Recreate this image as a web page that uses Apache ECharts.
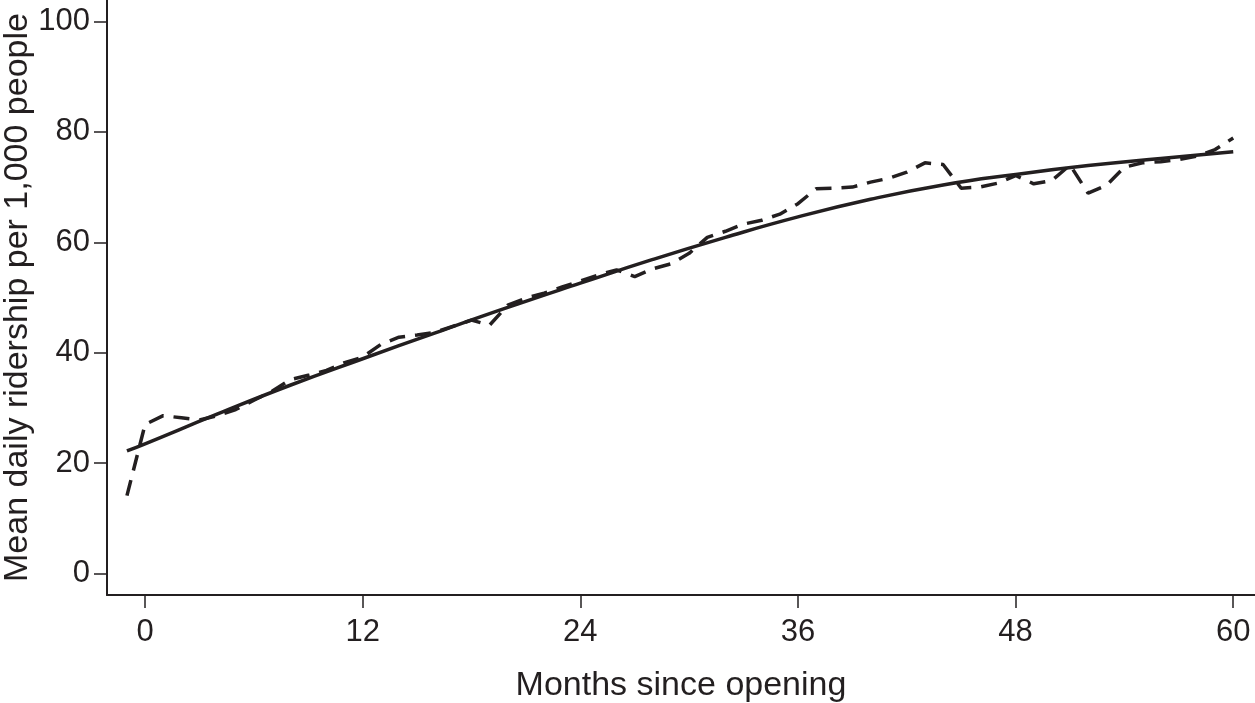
<!DOCTYPE html>
<html>
<head>
<meta charset="utf-8">
<script src="https://cdn.jsdelivr.net/npm/echarts@6/dist/echarts.min.js"></script>
<style>
  html, body { margin: 0; padding: 0; background: #fff; }
  #chart { width: 1255px; height: 703px; }
</style>
</head>
<body>
<div id="chart"></div>
<script>
// monthly observed ridership (dashed)
var months = [-1, 0, 1, 2, 3, 4, 5, 6, 7, 8, 9, 10, 11, 12, 13, 14, 15, 16, 17, 18, 19, 20,
  21, 22, 23, 24, 25, 26, 27, 28, 29, 30, 31, 32, 33, 34, 35, 36, 37, 38, 39, 40,
  41, 42, 43, 44, 45, 46, 47, 48, 49, 50, 51, 52, 53, 54, 55, 56, 57, 58, 59, 60];
var observed = [14.1, 27.0, 28.6, 28.2, 27.8, 28.6, 29.7, 31.4, 33.0, 35.1, 35.9, 36.8,
  38.2, 39.2, 41.5, 42.8, 43.2, 43.7, 44.8, 45.9, 45.0, 48.6, 49.9, 50.8, 51.9, 53.0,
  54.1, 55.0, 53.8, 55.2, 56.1, 58.0, 60.9, 62.0, 63.3, 64.0, 65.1, 67.0, 69.7, 69.8,
  70.0, 70.9, 71.6, 72.7, 74.4, 74.1, 69.8, 70.0, 70.7, 72.1, 70.6, 71.2, 74.0, 68.9,
  70.3, 73.6, 74.4, 74.6, 75.0, 75.6, 76.8, 78.9];

// fitted trend (solid)
var fitMonths = [-1, 0, 4, 8, 12, 16, 20, 24, 28, 32, 36, 40, 44, 48, 52, 56, 60];
var fitted = [22.2, 23.5, 28.9, 34.1, 38.9, 43.6, 48.2, 52.6, 56.9, 60.9, 64.6, 67.8,
  70.4, 72.3, 73.9, 75.2, 76.4];

var xTicks = [0, 12, 24, 36, 48, 60];
var yTicks = [0, 20, 40, 60, 80, 100];

var ink = '#231f20';
var font = 'Liberation Sans, Arial, Helvetica, sans-serif';

function pairs(xs, ys) {
  return xs.map(function (x, i) { return [x, ys[i]]; });
}

var chart = echarts.init(document.getElementById('chart'));
chart.setOption({
  animation: false,
  backgroundColor: '#fff',
  grid: { left: 107, right: 0, top: 0, bottom: 108, outerBoundsMode: 'none', containLabel: false },
  xAxis: {
    type: 'value',
    min: -2.1,
    max: 61.2,
    name: 'Months since opening',
    nameLocation: 'middle',
    nameGap: 74,
    nameMoveOverlap: false,
    nameTextStyle: { color: ink, fontSize: 34, fontFamily: font },
    axisLine: { onZero: false, lineStyle: { color: ink, width: 2 } },
    axisTick: { customValues: xTicks, length: 13, lineStyle: { color: ink, width: 1.5 } },
    axisLabel: { customValues: xTicks, margin: 22, color: ink, fontSize: 31, fontFamily: font },
    splitLine: { show: false }
  },
  yAxis: {
    type: 'value',
    min: -3.9,
    max: 103.9,
    name: 'Mean daily ridership per 1,000 people',
    nameLocation: 'middle',
    nameGap: 72,
    nameMoveOverlap: false,
    nameTextStyle: { color: ink, fontSize: 34, fontFamily: font },
    axisLine: { show: true, onZero: false, lineStyle: { color: ink, width: 2 } },
    axisTick: { show: true, customValues: yTicks, length: 13, lineStyle: { color: ink, width: 1.5 } },
    axisLabel: { customValues: yTicks, margin: 17, color: ink, fontSize: 31, fontFamily: font },
    splitLine: { show: false }
  },
  series: [
    {
      type: 'line',
      data: pairs(months, observed),
      showSymbol: false,
      lineStyle: { color: ink, width: 3.5, type: [16, 10] }
    },
    {
      type: 'line',
      data: pairs(fitMonths, fitted),
      smooth: true,
      showSymbol: false,
      lineStyle: { color: ink, width: 3.5 }
    }
  ]
});
</script>
</body>
</html>
